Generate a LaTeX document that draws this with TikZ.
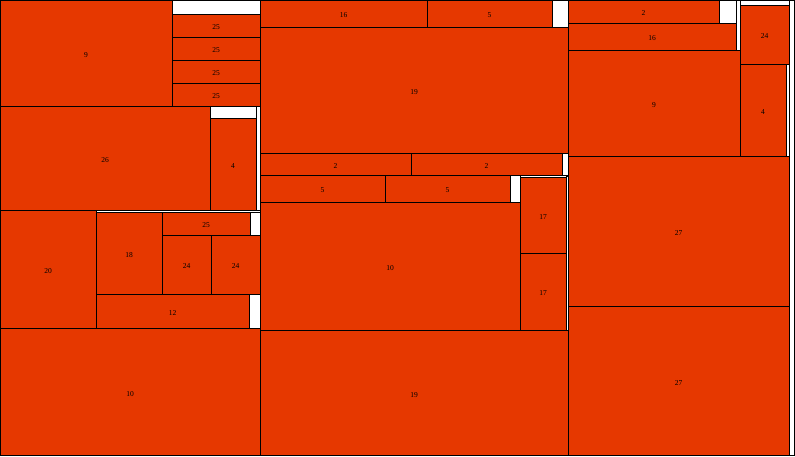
\documentclass[tikz,border=0pt]{standalone}
\usepackage{fontspec}
\setmainfont{Liberation Serif}
\usepackage{xcolor}
\definecolor{cellred}{RGB}{230,56,0}

\tikzset{
  cellbox/.style={draw=black, line width=1pt, fill=cellred},
  gapbox/.style={draw=black, line width=1pt, fill=white},
  celllabel/.style={font=\fontsize{7.5}{8}\selectfont, inner sep=0pt, yshift=-2pt}
}

\begin{document}
\begin{tikzpicture}[x=1pt, y=-1pt]
\useasboundingbox (0,0) rectangle (795,456);
% empty gaps
\foreach \xa/\ya/\xb/\yb in {172/0/260/14, 210/106/256/118, 256/106/260/210,
    96/210/260/212, 250/212/260/235, 249/294/260/328, 552/0/568/27,
    562/153/568/175, 510/175/520/202, 566/176/568/330, 719/0/736/23,
    736/0/740/50, 740/0/789/5, 786/64/789/156, 789/0/794/455.5}
  \draw[gapbox] (\xa,\ya) rectangle (\xb,\yb);
% filled cells
\foreach \xa/\ya/\xb/\yb/\val [count=\i] in {0/0/172/106/9,
    172/14/260/37/25, 172/37/260/60/25, 172/60/260/83/25, 172/83/260/106/25,
    0/106/210/210/26, 210/118/256/210/4,
    0/210/96/328/20, 96/212/162/294/18, 162/212/250/235/25,
    162/235/211/294/24, 211/235/260/294/24, 96/294/249/328/12,
    0/328/260/455.5/10,
    260/0/427/27/16, 427/0/552/27/5, 260/27/568/153/19,
    260/153/411/175/2, 411/153/562/175/2,
    260/175/385/202/5, 385/175/510/202/5,
    260/202/520/330/10, 520/177/566/253/17, 520/253/566/330/17,
    260/330/568/455.5/19,
    568/0/719/23/2, 568/23/736/50/16, 568/50/740/156/9,
    740/5/789/64/24, 740/64/786/156/4,
    568/156/789/306/27, 568/306/789/455.5/27}
  \draw[cellbox] (\xa,\ya) rectangle (\xb,\yb)
    node[celllabel, midway] (cell\i) {\val};
% outer frame
\draw[line width=1pt] (0,0) rectangle (794,455.5);
\end{tikzpicture}
\end{document}
